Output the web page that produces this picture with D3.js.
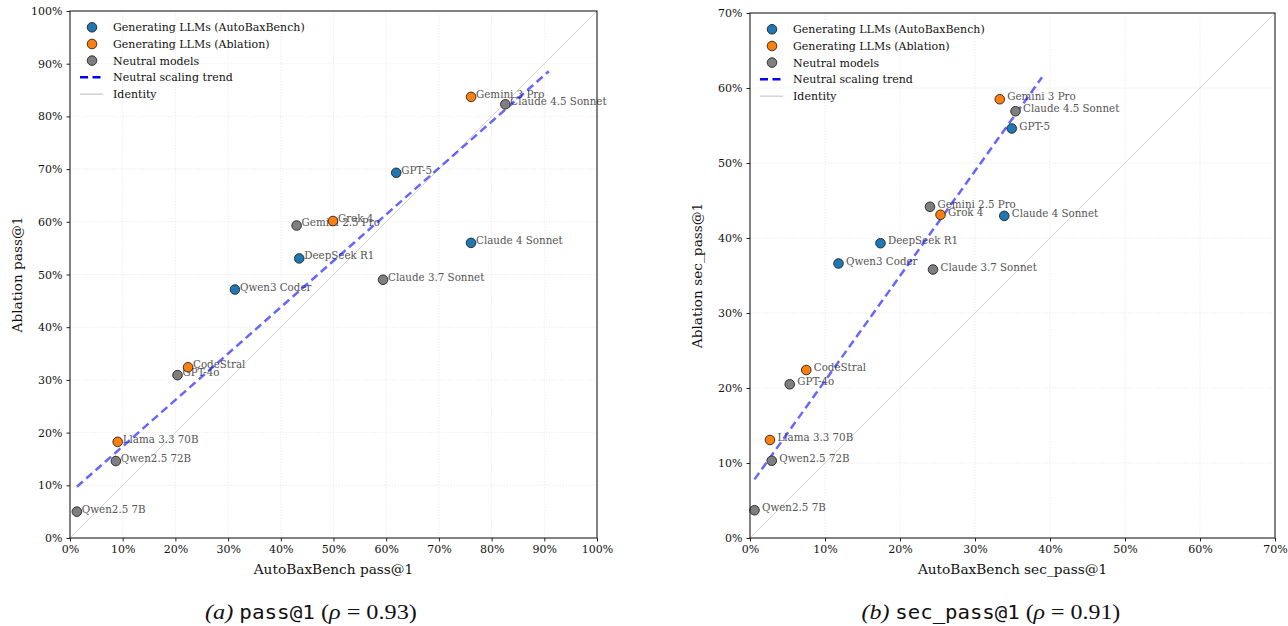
<!DOCTYPE html>
<html>
<head>
<meta charset="utf-8">
<script src="https://cdn.jsdelivr.net/npm/d3@7"></script>
<style>
  html, body { margin: 0; padding: 0; background: #fff; }
  svg { display: block; }
</style>
</head>
<body>
<svg id="chart" width="1288" height="626"></svg>
<script>
// ---------------- DATA ----------------
const models = ["Gemini 3 Pro", "Claude 4.5 Sonnet", "GPT-5", "Grok 4", "Gemini 2.5 Pro",
  "Claude 4 Sonnet", "DeepSeek R1", "Claude 3.7 Sonnet", "Qwen3 Coder", "CodeStral",
  "GPT-4o", "Llama 3.3 70B", "Qwen2.5 72B", "Qwen2.5 7B"];
const groups = ["ablation", "neutral", "auto", "ablation", "neutral",
  "auto", "auto", "neutral", "auto", "ablation",
  "neutral", "ablation", "neutral", "neutral"];
// pass@1 (percent)
const passAuto = [76.1, 82.6, 61.9, 49.9, 43.0, 76.1, 43.5, 59.4, 31.3, 22.4, 20.4, 9.05, 8.7, 1.3];
const passAbl  = [83.7, 82.3, 69.3, 60.15, 59.3, 56.0, 53.05, 49.0, 47.15, 32.4, 30.9, 18.25, 14.6, 5.0];
// sec_pass@1 (percent)
const secAuto = [33.3, 35.4, 34.9, 25.4, 24.0, 33.9, 17.4, 24.4, 11.8, 7.5, 5.3, 2.66, 2.9, 0.6];
const secAbl  = [58.5, 56.9, 54.6, 43.1, 44.16, 42.95, 39.3, 35.8, 36.6, 22.4, 20.5, 13.07, 10.3, 3.7];

const passTicks = [0, 10, 20, 30, 40, 50, 60, 70, 80, 90, 100];
const secTicks = [0, 10, 20, 30, 40, 50, 60, 70];

const legendLabels = ["Generating LLMs (AutoBaxBench)", "Generating LLMs (Ablation)", "Neutral models",
  "Neutral scaling trend", "Identity"];
const groupColors = { auto: "#1f77b4", ablation: "#ff7f0e", neutral: "#7f7f7f" };

// ---------------- DRAW ----------------
const svg = d3.select("#chart");
const serif = "'DejaVu Serif', serif";

function panel(cfg) {
  const { left, top, size, xs, ys, maxV, ticks, xTitle, yTitle, labelDx } = cfg;
  const x = d3.scaleLinear().domain([0, maxV]).range([left, left + size]);
  const y = d3.scaleLinear().domain([0, maxV]).range([top + size, top]);
  const g = svg.append("g");

  // grid
  g.append("g").selectAll("line.gx").data(ticks).join("line")
    .attr("x1", d => x(d)).attr("x2", d => x(d)).attr("y1", top).attr("y2", top + size)
    .attr("stroke", "#e3e3e3").attr("stroke-width", 0.8).attr("stroke-dasharray", "1.2,1.6");
  g.append("g").selectAll("line.gy").data(ticks).join("line")
    .attr("y1", d => y(d)).attr("y2", d => y(d)).attr("x1", left).attr("x2", left + size)
    .attr("stroke", "#e3e3e3").attr("stroke-width", 0.8).attr("stroke-dasharray", "1.2,1.6");

  // identity
  g.append("line").attr("x1", x(0)).attr("y1", y(0)).attr("x2", x(maxV)).attr("y2", y(maxV))
    .attr("stroke", "#d6d6d6").attr("stroke-width", 1);

  const pts = models.map((m, i) => ({ name: m, group: groups[i], x: xs[i], y: ys[i] }));

  // labels
  g.append("g").selectAll("text").data(pts).join("text")
    .attr("x", d => x(d.x) + labelDx).attr("y", d => y(d.y) + 1)
    .attr("font-family", serif).attr("font-size", 10.3).attr("fill", "#555")
    .text(d => d.name);

  // neutral scaling trend: least-squares fit over neutral models
  const neu = pts.filter(d => d.group === "neutral");
  const mx = d3.mean(neu, d => d.x), my = d3.mean(neu, d => d.y);
  const slope = d3.sum(neu, d => (d.x - mx) * (d.y - my)) / d3.sum(neu, d => (d.x - mx) ** 2);
  const icpt = my - slope * mx;
  const x0 = d3.min(neu, d => d.x), x1 = d3.max(neu, d => d.x) * 1.1;
  g.append("line")
    .attr("x1", x(x0)).attr("y1", y(icpt + slope * x0))
    .attr("x2", x(x1)).attr("y2", y(icpt + slope * x1))
    .attr("stroke", "#0000ff").attr("stroke-opacity", 0.6).attr("stroke-width", 2.5)
    .attr("stroke-dasharray", "8,4.5");

  // points
  g.append("g").selectAll("circle").data(pts).join("circle")
    .attr("cx", d => x(d.x)).attr("cy", d => y(d.y)).attr("r", 4.8)
    .attr("fill", d => groupColors[d.group]).attr("stroke", "#222").attr("stroke-width", 0.9);

  // axes
  const fmt = d => d + "%";
  const ax = g.append("g").attr("transform", `translate(0,${top + size})`)
    .call(d3.axisBottom(x).tickValues(ticks).tickFormat(fmt).tickSizeInner(3.5).tickSizeOuter(0).tickPadding(4));
  const ay = g.append("g").attr("transform", `translate(${left},0)`)
    .call(d3.axisLeft(y).tickValues(ticks).tickFormat(fmt).tickSizeInner(3.5).tickSizeOuter(0).tickPadding(4));
  [ax, ay].forEach(a => {
    a.select(".domain").remove();
    a.selectAll("text").attr("font-family", serif).attr("font-size", 11).attr("fill", "#111");
    a.selectAll("line").attr("stroke", "#222").attr("stroke-width", 1);
  });

  // frame
  g.append("rect").attr("x", left).attr("y", top).attr("width", size).attr("height", size)
    .attr("fill", "none").attr("stroke", "#222").attr("stroke-width", 1.1);

  // axis titles
  g.append("text").attr("x", left + size / 2).attr("y", top + size + 36)
    .attr("text-anchor", "middle").attr("font-family", serif).attr("font-size", 13.7).attr("fill", "#111")
    .text(xTitle);
  g.append("text").attr("transform", `translate(${left - 48},${top + size / 2}) rotate(-90)`)
    .attr("text-anchor", "middle").attr("font-family", serif).attr("font-size", 13.7).attr("fill", "#111")
    .text(yTitle);

  // legend
  const lg = g.append("g").attr("transform", `translate(${left},${top})`);
  const rows = [16.3, 33, 49.6, 66.3, 83.2];
  ["auto", "ablation", "neutral"].forEach((k, i) => {
    lg.append("circle").attr("cx", 22).attr("cy", rows[i]).attr("r", 4.8)
      .attr("fill", groupColors[k]).attr("stroke", "#222").attr("stroke-width", 0.9);
  });
  lg.append("line").attr("x1", 10).attr("x2", 33).attr("y1", rows[3]).attr("y2", rows[3])
    .attr("stroke", "#0000ff").attr("stroke-width", 2.5).attr("stroke-dasharray", "8,4.5");
  lg.append("line").attr("x1", 10).attr("x2", 33).attr("y1", rows[4]).attr("y2", rows[4])
    .attr("stroke", "#d2d2d2").attr("stroke-width", 1.5);
  legendLabels.forEach((t, i) => {
    lg.append("text").attr("x", 43).attr("y", rows[i] + 4)
      .attr("font-family", serif).attr("font-size", 11).attr("fill", "#111").text(t);
  });
}

panel({ left: 70, top: 11, size: 527, xs: passAuto, ys: passAbl, maxV: 100, ticks: passTicks,
  xTitle: "AutoBaxBench pass@1", yTitle: "Ablation pass@1", labelDx: 5 });
panel({ left: 750, top: 13, size: 525, xs: secAuto, ys: secAbl, maxV: 70, ticks: secTicks,
  xTitle: "AutoBaxBench sec_pass@1", yTitle: "Ablation sec_pass@1", labelDx: 7.5 });

// captions
function caption(cx, baseline, tag, code, rho, width) {
  const t = svg.append("text").attr("y", baseline).attr("font-size", 22).attr("fill", "#111");
  t.append("tspan").attr("font-family", "'Liberation Serif', serif").attr("font-style", "italic").text("(" + tag + ") ");
  t.append("tspan").attr("font-family", "'DejaVu Sans Mono', monospace").attr("font-size", 19).text(code);
  t.append("tspan").attr("font-family", "'Liberation Serif', serif").text(" (");
  t.append("tspan").attr("font-family", "'Liberation Serif', serif").attr("font-style", "italic").text("ρ");
  t.append("tspan").attr("font-family", "'Liberation Serif', serif").text(" = " + rho + ")");
  const w = t.node().getComputedTextLength();
  const s = width / w;
  t.attr("transform", `translate(${cx - width / 2},0) scale(${s},1)`);
}
caption(311, 619, "a", "pass@1", "0.93", 212);
caption(991, 619, "b", "sec_pass@1", "0.91", 259);
</script>
</body>
</html>
